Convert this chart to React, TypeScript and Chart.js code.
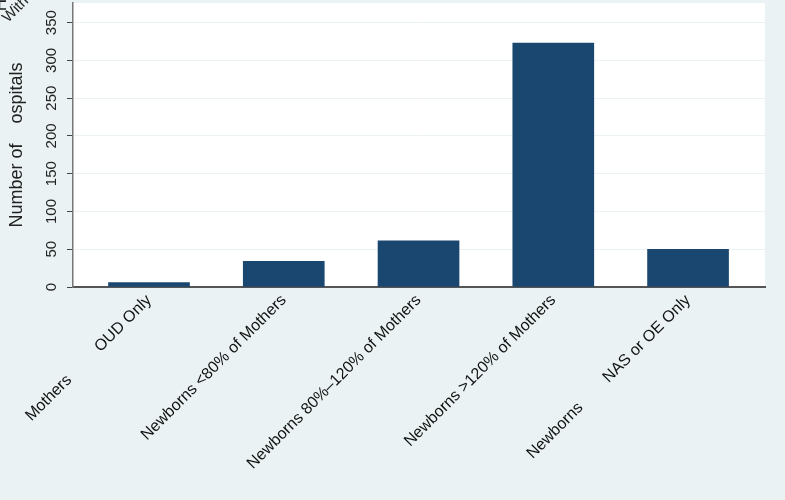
import React, { useEffect, useRef } from 'react';
import { Chart, registerables } from 'chart.js';
Chart.register(...registerables);

const categories = [
  'Mothers         OUD Only',
  'Newborns <80% of Mothers',
  'Newborns 80%\u2013120% of Mothers',
  'Newborns >120% of Mothers',
  'Newborns        NAS or OE Only',
];
const hospitalCounts = [6, 34, 61, 323, 50];
const yTickValues = [0, 50, 100, 150, 200, 250, 300, 350];
const yAxisTitle = 'Number of    ospitals';
const strayH = 'H';
const strayWith = 'With';

const BG = '#EAF2F3';
const BAR = '#1A476F';
const FONT = '"Liberation Sans", Arial, sans-serif';

export default function App() {
  const ref = useRef<HTMLCanvasElement | null>(null);
  useEffect(() => {
    document.body.style.margin = '0';
    const canvas = ref.current;
    if (!canvas) return;
    const plotBg = {
      id: 'plotBg',
      beforeDraw(chart: any) {
        const { ctx, chartArea } = chart;
        ctx.save();
        ctx.fillStyle = '#ffffff';
        ctx.fillRect(chartArea.left, chartArea.top, chartArea.right - chartArea.left, chartArea.bottom - chartArea.top);
        ctx.restore();
      },
      afterDraw(chart: any) {
        const { ctx, chartArea } = chart;
        const ys = chart.scales.y;
        ctx.save();
        ctx.fillStyle = '#222';
        ctx.font = `15px ${FONT}`;
        ctx.textAlign = 'center';
        ctx.textBaseline = 'middle';
        for (const v of yTickValues) {
          const py = ys.getPixelForValue(v);
          ctx.save();
          ctx.translate(52, py);
          ctx.rotate(-Math.PI / 2);
          ctx.fillText(String(v), 0, 0);
          ctx.restore();
        }
        ctx.font = `18px ${FONT}`;
        ctx.save();
        ctx.translate(17, (chartArea.top + chartArea.bottom) / 2);
        ctx.rotate(-Math.PI / 2);
        ctx.fillText(yAxisTitle, 0, 0);
        ctx.restore();
        ctx.font = `17px ${FONT}`;
        ctx.save();
        ctx.translate(1, 5);
        ctx.rotate(-Math.PI / 2);
        ctx.fillText(strayH, 0, 0);
        ctx.restore();
        ctx.font = `15px ${FONT}`;
        ctx.textAlign = 'left';
        ctx.textBaseline = 'alphabetic';
        ctx.save();
        ctx.translate(8, 23);
        ctx.rotate(-Math.PI / 4);
        ctx.fillText(strayWith, 0, 0);
        ctx.restore();
        ctx.restore();
      },
    };
    const chart = new Chart(canvas, {
      type: 'bar',
      data: {
        datasets: [
          {
            data: hospitalCounts.map((v, i) => ({ x: i, y: v })),
            backgroundColor: BAR,
            borderWidth: 0,
            barThickness: 81,
          },
        ],
      },
      options: {
        animation: false,
        responsive: false,
        maintainAspectRatio: false,
        layout: { padding: { left: 0, right: 20, top: 3, bottom: 0 } },
        plugins: { legend: { display: false }, tooltip: { enabled: false } },
        scales: {
          x: {
            type: 'linear',
            offset: false,
            min: -0.564,
            max: 4.571,
            grid: { display: false, offset: false },
            border: { display: true, color: '#555', width: 2 },
            ticks: {
              stepSize: 1,
              includeBounds: false,
              autoSkip: false,
              minRotation: 45,
              maxRotation: 45,
              padding: -4,
              color: '#111',
              font: { family: FONT, size: 16 },
              callback: (v: any) => {
                const i = Math.round(Number(v));
                return Math.abs(Number(v) - i) < 1e-6 && i >= 0 && i < categories.length ? categories[i] : '';
              },
            },
            afterFit: (s: any) => {
              s.height = 213;
              s.paddingLeft = 0;
              s.paddingRight = 0;
              s.paddingTop = 0;
              s.paddingBottom = 0;
            },
          },
          y: {
            min: 0,
            max: 376,
            grid: { color: BG, lineWidth: 1, tickColor: '#444', tickLength: 6, drawTicks: true },
            border: { display: true, color: '#777', width: 1.5 },
            ticks: { stepSize: 50, includeBounds: false, display: false },
            afterFit: (s: any) => {
              s.width = 73;
              s.paddingTop = 0;
              s.paddingBottom = 0;
            },
          },
        },
      },
      plugins: [plotBg],
    } as any);
    return () => chart.destroy();
  }, []);
  return (
    <div style={{ width: 785, height: 500, background: BG }}>
      <canvas ref={ref} width={785} height={500} style={{ display: 'block' }} />
    </div>
  );
}
